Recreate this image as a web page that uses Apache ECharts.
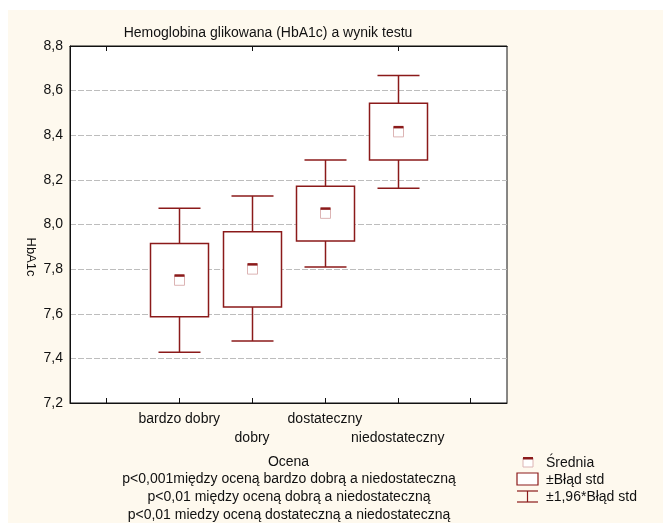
<!DOCTYPE html>
<html>
<head>
<meta charset="utf-8">
<script src="https://cdn.jsdelivr.net/npm/echarts@6/dist/echarts.min.js"></script>
<style>
html,body{margin:0;padding:0;background:#fff;}
#bg{position:absolute;left:8px;top:10px;width:655px;height:513px;background:#fef9ee;}
#c{position:absolute;left:0;top:0;width:663px;height:523px;}
</style>
</head>
<body>
<div id="bg"></div>
<div id="c"></div>
<script>
const categories = ['', 'bardzo dobry', 'dobry', 'dostateczny', 'niedostateczny', ''];
const groupIndex = [1, 2, 3, 4];
const means = [7.75, 7.80, 8.05, 8.415];
const seLow = [7.587, 7.63, 7.926, 8.289];
const seHigh = [7.915, 7.968, 8.171, 8.543];
const ciLow = [7.428, 7.478, 7.81, 8.163];
const ciHigh = [8.073, 8.128, 8.289, 8.668];
const yTicks = { min: 7.2, max: 8.8, interval: 0.2 };
const notes = [
  'p<0,001między oceną bardzo dobrą a niedostateczną',
  'p<0,01 między oceną dobrą a niedostateczną',
  'p<0,01 miedzy oceną dostateczną a niedostateczną'
];

const RED = '#8b1a1a';
const FONT = '"Liberation Sans", Arial, sans-serif';

const data = groupIndex.map((g, i) => [g, ciLow[i], seLow[i], means[i], seHigh[i], ciHigh[i]]);

const chart = echarts.init(document.getElementById('c'), null, { renderer: 'canvas' });

function renderItem(params, api) {
  const x = api.value(0);
  const pWL = api.coord([x, api.value(1)]);
  const pBL = api.coord([x, api.value(2)]);
  const pM = api.coord([x, api.value(3)]);
  const pBH = api.coord([x, api.value(4)]);
  const pWH = api.coord([x, api.value(5)]);
  const cx = Math.round(pM[0]) + 0.5;
  const boxW = 58, capW = 42;
  const ls = { stroke: RED, lineWidth: 1.5, fill: null };
  const children = [
    { type: 'line', shape: { x1: cx, y1: pWH[1], x2: cx, y2: pBH[1] }, style: ls },
    { type: 'line', shape: { x1: cx, y1: pBL[1], x2: cx, y2: pWL[1] }, style: ls },
    { type: 'line', shape: { x1: cx - capW / 2, y1: pWH[1], x2: cx + capW / 2, y2: pWH[1] }, style: ls },
    { type: 'line', shape: { x1: cx - capW / 2, y1: pWL[1], x2: cx + capW / 2, y2: pWL[1] }, style: ls },
    { type: 'rect', shape: { x: cx - boxW / 2, y: pBH[1], width: boxW, height: pBL[1] - pBH[1] }, style: { stroke: RED, lineWidth: 1.5, fill: '#fff' } },
    { type: 'rect', shape: { x: cx - 5, y: pM[1] - 5, width: 10, height: 10 }, style: { stroke: '#dcb4b4', lineWidth: 1, fill: '#fff' } },
    { type: 'rect', shape: { x: cx - 5, y: pM[1] - 6, width: 10, height: 2.5 }, style: { fill: RED } }
  ];
  return { type: 'group', children };
}

const option = {
  animation: false,
  backgroundColor: 'transparent',
  textStyle: { fontFamily: FONT },
  title: {
    text: 'Hemoglobina glikowana (HbA1c) a wynik testu',
    left: 263, top: 21, textAlign: 'center',
    textStyle: { fontSize: 14, fontWeight: 'normal', color: '#111', fontFamily: FONT }
  },
  grid: { left: 70, top: 46, width: 437, height: 357, show: true, backgroundColor: '#fff', borderColor: '#111', borderWidth: 1 },
  xAxis: [{
    type: 'category', data: categories, position: 'bottom',
    axisLine: { show: true, lineStyle: { color: '#111' } },
    axisTick: { show: true, alignWithLabel: true, inside: true, length: 5, lineStyle: { color: '#111' } },
    axisLabel: {
      interval: 0, margin: 7, fontSize: 14, color: '#111', fontFamily: FONT, lineHeight: 19,
      formatter: (v, i) => (i % 2 === 0 ? '\n' + v : v)
    },
    name: 'Ocena', nameLocation: 'middle', nameGap: 52,
    nameTextStyle: { fontSize: 14, color: '#111', fontFamily: FONT }
  }, {
    type: 'category', data: categories, position: 'top',
    axisLine: { show: true, lineStyle: { color: '#111' } },
    axisTick: { show: true, alignWithLabel: true, inside: true, length: 5, lineStyle: { color: '#111' } },
    axisLabel: { show: false }
  }],
  yAxis: {
    type: 'value', min: yTicks.min, max: yTicks.max, interval: yTicks.interval,
    axisLine: { show: true, lineStyle: { color: '#111' } },
    axisTick: { show: false },
    axisLabel: { fontSize: 14, color: '#111', margin: 7, fontFamily: FONT, formatter: v => v.toFixed(1).replace('.', ',') },
    splitLine: { show: true, lineStyle: { color: '#bdbdbd', type: [6, 2] } }
  },
  series: [{
    type: 'custom', renderItem, data, xAxisIndex: 0, yAxisIndex: 0,
    encode: { x: 0, y: [1, 2, 3, 4, 5] }, z: 10
  }],
  graphic: [
    { type: 'text', x: 31, y: 257, rotation: -Math.PI / 2,
      style: { text: 'HbA1c', font: '13px ' + FONT, fill: '#111', textAlign: 'center', textVerticalAlign: 'middle' } },
    ...notes.map((t, i) => ({
      type: 'text', x: 289, y: 472 + i * 18,
      style: { text: t, font: '14px ' + FONT, fill: '#111', textAlign: 'center' }
    })),
    { type: 'rect', shape: { x: 523, y: 458, width: 10, height: 9 }, style: { stroke: '#dcb4b4', fill: '#fff', lineWidth: 1 } },
    { type: 'rect', shape: { x: 523, y: 457, width: 10, height: 2.5 }, style: { fill: RED } },
    { type: 'text', x: 546, y: 463, style: { text: 'Średnia', font: '14px ' + FONT, fill: '#111', textVerticalAlign: 'middle' } },
    { type: 'rect', shape: { x: 517, y: 473, width: 21, height: 12 }, style: { stroke: RED, fill: '#fff', lineWidth: 1.2 } },
    { type: 'text', x: 546, y: 480, style: { text: '±Błąd std', font: '14px ' + FONT, fill: '#111', textVerticalAlign: 'middle' } },
    { type: 'line', shape: { x1: 517, y1: 491, x2: 538, y2: 491 }, style: { stroke: RED, lineWidth: 1.2 } },
    { type: 'line', shape: { x1: 517, y1: 502, x2: 538, y2: 502 }, style: { stroke: RED, lineWidth: 1.2 } },
    { type: 'line', shape: { x1: 527.5, y1: 491, x2: 527.5, y2: 502 }, style: { stroke: RED, lineWidth: 1.2 } },
    { type: 'text', x: 546, y: 497, style: { text: '±1,96*Błąd std', font: '14px ' + FONT, fill: '#111', textVerticalAlign: 'middle' } }
  ]
};
chart.setOption(option);
</script>
</body>
</html>
